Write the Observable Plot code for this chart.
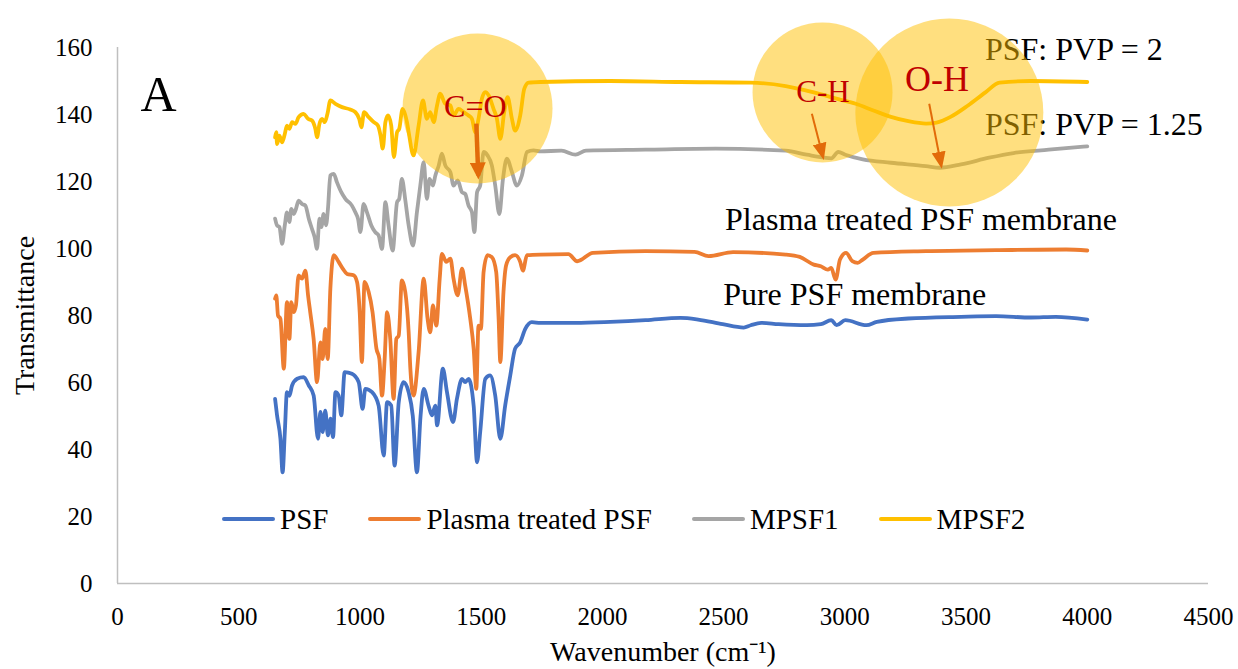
<!DOCTYPE html>
<html><head><meta charset="utf-8">
<script src="https://cdn.jsdelivr.net/npm/d3@7"></script>
<script src="https://cdn.jsdelivr.net/npm/@observablehq/plot@0.6"></script>
<style>
body{margin:0;background:#fff;}
#wrap{position:relative;width:1238px;height:669px;font-family:"Liberation Serif","Times New Roman",serif;}
#wrap svg text{font-family:"Liberation Serif","Times New Roman",serif !important;}
#legend{position:absolute;left:222px;top:502px;display:flex;align-items:center;gap:40px;font-size:29px;line-height:34px;color:#000;}
#legend .item{display:flex;align-items:center;gap:5px;}
#legend .sw{width:53px;height:4px;border-radius:2px;}
</style></head><body><div id="wrap"><div id="legend"></div></div>
<script>
// ---- data (wavenumber cm^-1, transmittance) ----
const seriesNames = ["PSF", "Plasma treated PSF", "MPSF1", "MPSF2"];
const seriesColors = ["#4472C4", "#ED7D31", "#A5A5A5", "#FFC000"];

const psf = [[650,55.1],[658,50.2],[672,43.2],[681,33.2],[690,45],[699,57.1],[709,56],[720,59.1],[741,61.1],[768,61.6],[789,59.1],[809,56.1],[827,43.2],[837,51.2],[846,45.2],[857,51.6],[868,44.2],[879,49.2],[889,43.7],[899,57.1],[912,56.1],[923,50.2],[937,63.1],[967,62.6],[995,60.1],[1011,52.1],[1022,58.1],[1050,57.1],[1077,53.1],[1098,38.2],[1112,54.1],[1129,53.1],[1143,35.2],[1160,54.1],[1180,60.1],[1201,57.1],[1218,50],[1235,33.2],[1250,50],[1263,58.1],[1283,53.1],[1297,50.2],[1311,53.1],[1318,47.2],[1342,64.1],[1359,57.1],[1384,48.2],[1400,55.1],[1421,61.1],[1434,60.1],[1448,61.1],[1469,53.1],[1483,36.2],[1496,45.2],[1517,61.1],[1537,62.1],[1558,56.1],[1579,43.2],[1599,53.1],[1620,62.1],[1640,70.1],[1661,72.0],[1682,76.0],[1709,78.0],[1744,77.8],[1889,77.8],[2033,78.1],[2178,78.6],[2322,79.3],[2395,78.8],[2496,77.4],[2583,76.4],[2612,77.1],[2655,77.8],[2727,77.4],[2843,77.1],[2901,77.4],[2944,78.6],[2966,77.1],[3002,78.6],[3089,77.1],[3132,78.1],[3262,79.1],[3479,79.6],[3624,79.8],[3768,79.4],[3870,79.6],[4000,78.8]];

const plasma = [[650,85.0],[655,86.0],[662,80.0],[672,79.0],[686,64.1],[699,84.0],[709,73.0],[717,84.0],[727,81.0],[736,83.0],[747,92.0],[761,91.0],[775,93.4],[786,86.0],[795,81.0],[809,73.0],[823,60.1],[837,72.0],[846,67.0],[857,76.0],[867,67.0],[878,88.0],[892,98.0],[912,96.0],[929,94.0],[947,92.4],[974,92.0],[988,90.0],[999,81.0],[1008,66.1],[1019,90.0],[1036,87.0],[1052,81.0],[1068,70.1],[1080,67.1],[1091,56.1],[1102,67.1],[1112,81.0],[1125,73.0],[1139,55.1],[1150,73.0],[1160,74.0],[1173,90.5],[1187,87.0],[1201,75.0],[1208,64.1],[1221,56.1],[1242,69.1],[1263,91.0],[1279,79.0],[1290,75.0],[1301,83.0],[1315,77.0],[1329,91.0],[1338,98.4],[1356,96.0],[1373,97.0],[1386,91.0],[1403,86.0],[1421,94.0],[1434,89.0],[1455,79.0],[1469,70.1],[1480,58.1],[1489,77.0],[1499,76.0],[1510,93.0],[1526,98.0],[1544,97.4],[1562,93.0],[1572,79.0],[1579,66.1],[1592,87.0],[1603,95.0],[1620,97.4],[1640,98.0],[1661,96.0],[1672,93.4],[1689,98.0],[1744,98.2],[1860,98.3],[1896,96.2],[1961,98.7],[2178,99.2],[2380,99.0],[2438,97.7],[2539,98.9],[2756,98.2],[2814,97.5],[2872,95.2],[2901,94.7],[2930,93.7],[2944,94.2],[2962,90.7],[2980,96.7],[3005,98.7],[3031,96.2],[3053,95.7],[3074,96.7],[3118,98.7],[3335,99.2],[3624,99.5],[3913,99.7],[4000,99.4]];

const mpsf1 = [[650,108.9],[658,106.9],[668,106.4],[679,101.4],[690,106.9],[699,110.8],[709,107.9],[717,111.8],[727,110.3],[736,111.8],[747,114.3],[761,113.3],[775,112.8],[789,108.9],[802,105.9],[813,103.4],[823,99.9],[833,108.9],[841,106.4],[850,110.3],[860,106.9],[868,111.8],[878,121.8],[892,122.3],[905,119.8],[923,116.8],[940,114.8],[967,112.8],[981,110.8],[992,108.9],[1002,104.9],[1015,113.3],[1029,110.8],[1047,106.9],[1063,104.9],[1077,103.9],[1091,99.9],[1105,113.8],[1118,106.9],[1135,99.4],[1153,113.8],[1162,114.8],[1173,120.8],[1187,114.5],[1201,106.9],[1219,100.9],[1235,110.8],[1249,118.8],[1263,125.8],[1276,114.8],[1287,120.8],[1301,118.8],[1311,121.8],[1325,124.8],[1338,128.3],[1352,124.8],[1373,122.8],[1386,118.8],[1403,120.3],[1421,116.8],[1434,116.3],[1448,112.8],[1462,110.8],[1472,104.9],[1483,116.8],[1496,118.8],[1510,128.8],[1526,127.8],[1544,124.8],[1558,118.8],[1575,110.3],[1590,120.8],[1606,126.8],[1627,122.8],[1647,118.8],[1668,121.8],[1689,128.8],[1716,129.3],[1744,129.0],[1831,129.2],[1889,128.0],[1932,129.2],[2178,129.5],[2467,129.8],[2756,129.2],[2843,128.0],[2915,127.1],[2944,126.9],[2973,128.8],[3002,128.0],[3074,126.6],[3190,125.6],[3335,124.6],[3392,124.1],[3479,125.1],[3595,127.1],[3696,128.5],[3841,129.5],[4000,130.5]];

const mpsf2 = [[650,133.2],[655,134.7],[658,131.2],[668,133.7],[679,131.7],[690,134.2],[699,136.7],[709,135.7],[720,137.7],[734,137.2],[747,139.2],[768,140.2],[786,138.7],[802,138.2],[816,135.7],[823,133.2],[833,137.2],[844,138.7],[855,137.7],[866,140.2],[878,144.2],[899,143.2],[926,142.2],[960,141.5],[981,140.7],[997,138.7],[1006,136.2],[1017,140.7],[1036,139.2],[1057,137.7],[1074,136.7],[1085,133.7],[1094,129.8],[1105,137.7],[1116,139.7],[1129,136.7],[1140,127.3],[1153,134.7],[1162,135.7],[1176,141.7],[1194,137.7],[1201,134.7],[1221,127.8],[1242,136.7],[1260,144.2],[1276,138.7],[1290,140.7],[1304,137.7],[1318,142.7],[1331,146.2],[1352,143.2],[1373,142.7],[1386,139.7],[1407,141.7],[1428,140.7],[1448,139.7],[1462,138.7],[1476,134.7],[1489,138.7],[1503,144.7],[1517,146.7],[1531,145.7],[1551,141.7],[1565,138.7],[1579,132.7],[1595,140.7],[1609,145.2],[1627,138.7],[1640,135.2],[1661,139.7],[1678,147.7],[1696,149.5],[1744,149.7],[2033,150.0],[2322,149.7],[2612,149.5],[2756,148.5],[2872,146.6],[2973,144.6],[3045,143.2],[3118,141.2],[3190,139.3],[3262,138.0],[3335,137.3],[3378,137.6],[3436,139.3],[3508,142.7],[3580,146.6],[3638,149.5],[3768,150.0],[4000,149.7]];

const xTicks = [0, 500, 1000, 1500, 2000, 2500, 3000, 3500, 4000, 4500];
const yTicks = [0, 20, 40, 60, 80, 100, 120, 140, 160];
const xTitle = "Wavenumber (cm\u207B\u00B9)";
const yTitle = "Transmittance";
const panelLabel = "A";

// annotations (data coordinates)
const noteText = ["Plasma treated PSF membrane", "Pure PSF membrane", "PSF: PVP = 2", "PSF: PVP = 1.25"];
const noteX = [2506, 2498, 3578, 3578];
const noteY = [108.7, 86.3, 159.4, 137.0];
const bondText = ["C=O", "C-H", "O-H"];
const bondX = [1476, 2910, 3380];
const bondY = [142.4, 146.7, 150.6];
const circleX = [1485, 2908, 3431];
const circleY = [141.8, 146.6, 140.6];
const arrowX1 = [1480, 2864, 3348];
const arrowY1 = [137.3, 140.2, 143.2];
const arrowX2 = [1488, 2909, 3397];
const arrowY2 = [121.8, 127.6, 125.0];

// ---- build ----
const allSeries = [psf, plasma, mpsf1, mpsf2];
const rows = allSeries.flatMap((s, k) => s.map(([w, t]) => ({wn: w, t, series: seriesNames[k]})));
const idx4 = [0, 1, 2, 3];
const circleRadius = [75, 70, 94];
const bondSize = [32, 31, 36];
const FONT = "Liberation Serif, Times New Roman, serif";

function headMarker(len, wid, refX) {
  return (color, context) => {
    const doc = (context && context.document) || document;
    const ns = "http://www.w3.org/2000/svg";
    const m = doc.createElementNS(ns, "marker");
    m.setAttribute("viewBox", "0 -5 10 10");
    m.setAttribute("markerUnits", "userSpaceOnUse");
    m.setAttribute("markerWidth", len);
    m.setAttribute("markerHeight", wid);
    m.setAttribute("preserveAspectRatio", "none");
    m.setAttribute("refX", refX);
    m.setAttribute("refY", 0);
    m.setAttribute("orient", "auto");
    const p = doc.createElementNS(ns, "path");
    p.setAttribute("d", "M0,-5L10,0L0,5Z");
    p.setAttribute("fill", color);
    p.setAttribute("stroke", "none");
    m.appendChild(p);
    return m;
  };
}

const circleMarks = circleX.map((cx, i) =>
  Plot.dot([i], {x: j => circleX[j], y: j => circleY[j], r: circleRadius[i], fill: "#FFC000", fillOpacity: 0.5, stroke: "none"})
);
const bondMarks = bondText.map((t, i) =>
  Plot.text([i], {x: j => bondX[j], y: j => bondY[j], text: j => bondText[j], fontSize: bondSize[i], fontFamily: FONT, fill: "#C00000"})
);

const chart = Plot.plot({
  width: 1238, height: 669,
  marginLeft: 117, marginRight: 30, marginTop: 47, marginBottom: 86,
  style: {fontFamily: FONT, background: "#fff", color: "#000", overflow: "visible"},
  x: {domain: [0, 4500], label: null},
  y: {domain: [0, 160], label: null},
  color: {domain: seriesNames, range: seriesColors},
  marks: [
    Plot.axisX({ticks: xTicks, tickSize: 0, tickPadding: 24, fontSize: 25, fontFamily: FONT, fontVariant: "normal", label: null, tickFormat: d => String(d)}),
    Plot.axisY({ticks: yTicks, tickSize: 0, tickPadding: 25, fontSize: 25, fontFamily: FONT, fontVariant: "normal", label: null, tickFormat: d => String(d)}),
    Plot.ruleY([0], {stroke: "#BFBFBF", strokeWidth: 1.5}),
    Plot.ruleX([0], {stroke: "#BFBFBF", strokeWidth: 1.5}),
    Plot.text([xTitle], {text: d => d, frameAnchor: "bottom", textAnchor: "middle", dy: 77, fontSize: 28, fontFamily: FONT, fill: "#000"}),
    Plot.text([yTitle], {text: d => d, frameAnchor: "left", textAnchor: "middle", lineAnchor: "middle", rotate: -90, dx: -92, fontSize: 28, fontFamily: FONT, fill: "#000"}),
    Plot.line(rows, {x: "wn", y: "t", z: "series", stroke: "series", strokeWidth: 3.8, curve: "monotone-x", strokeLinejoin: "round", strokeLinecap: "round"}),
    Plot.text(idx4, {x: i => noteX[i], y: i => noteY[i], text: i => noteText[i], textAnchor: "start", fontSize: 32, fontFamily: FONT, fill: "#000"}),
    ...circleMarks,
    Plot.link([0], {x1: i => arrowX1[i], y1: i => arrowY1[i], x2: i => arrowX2[i], y2: i => arrowY2[i], stroke: "#E26B0A", strokeWidth: 4.5, markerEnd: headMarker(17, 16, 7.6)}),
    Plot.link([1, 2], {x1: i => arrowX1[i], y1: i => arrowY1[i], x2: i => arrowX2[i], y2: i => arrowY2[i], stroke: "#E26B0A", strokeWidth: 2, markerEnd: headMarker(17, 14, 7.6)}),
    ...bondMarks,
    Plot.text([panelLabel], {text: d => d, x: 95, y: 145.7, textAnchor: "start", fontSize: 50, fontFamily: FONT, fill: "#000"})
  ]
});
chart.style.position = "absolute";
chart.style.left = "0px";
chart.style.top = "0px";
d3.select(chart).selectAll("text, g").attr("font-family", FONT);
const wrap = document.getElementById("wrap");
wrap.insertBefore(chart, wrap.firstChild);

// legend
const legend = d3.select("#legend");
seriesNames.forEach((name, k) => {
  const item = legend.append("div").attr("class", "item");
  item.append("div").attr("class", "sw").style("background", seriesColors[k]);
  item.append("span").text(name);
});
</script></body></html>
